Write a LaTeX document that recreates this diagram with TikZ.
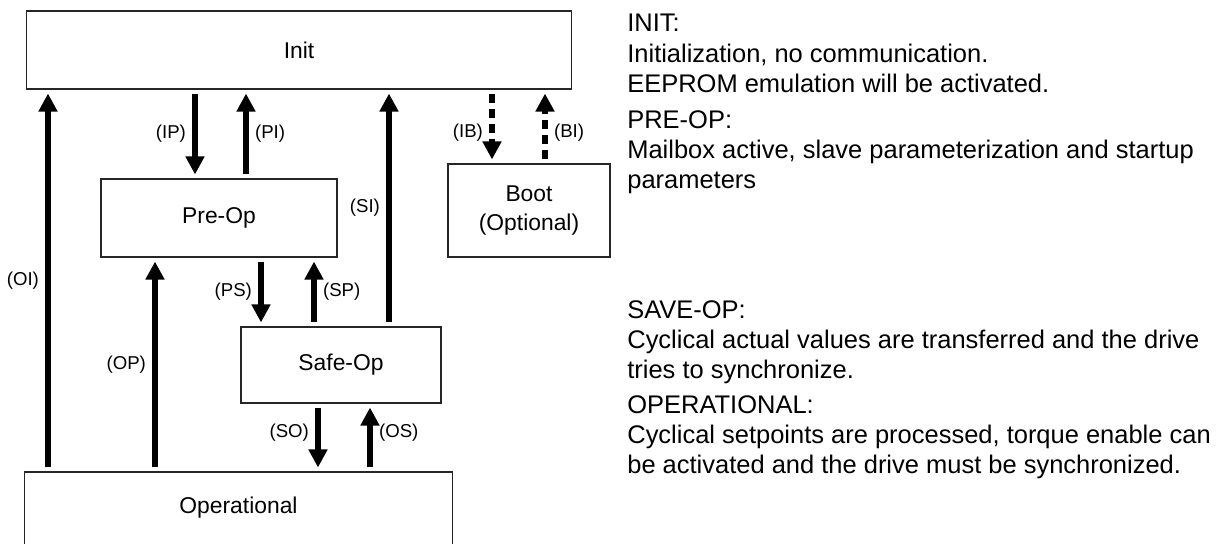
\documentclass[tikz,border=0pt]{standalone}
\usepackage{fontspec}
\setmainfont{Liberation Sans}
\usetikzlibrary{arrows.meta}
\tikzset{
  state/.style={
    draw=black!85, line width=0.6pt, align=center, inner sep=0pt,
    font=\fontsize{13}{16}\selectfont
  },
  trans/.style={-{Triangle[length=3.6mm,width=3.6mm]}, line width=1.3mm,
    shorten <=0.8mm, shorten >=0.8mm},
  optrans/.style={trans, dash pattern=on 1.8mm off 1.2mm},
  tag/.style={font=\fontsize{10.6}{12}\selectfont},
  note/.style={anchor=north west, inner sep=0pt, align=left,
    font=\fontsize{14.5}{17.2}\selectfont}
}

\begin{document}
\begin{tikzpicture}[x=0.02cm,y=-0.02cm]
  \useasboundingbox (0,0) rectangle (1221,544);
  % states
  \node[state,minimum width=10.92cm,minimum height=1.56cm] (init) at (299,50) {Init};
  \node[state,minimum width=4.72cm,minimum height=1.56cm] (preop) at (219,218) {Pre-Op};
  \node[state,minimum width=3.24cm,minimum height=1.86cm] (boot) at (529,210.5) {Boot\\(Optional)};
  \node[state,minimum width=4cm,minimum height=1.52cm] (safeop) at (341,365) {Safe-Op};
  \node[state,minimum width=8.58cm,minimum height=1.8cm,text depth=0.48cm] (oper) at (238.5,517) {Operational};
  % transitions
  \draw[trans] (oper.north -| 48,0) -- node[tag,left]{(OI)} (init.south -| 48,0);
  \draw[trans] (init.south -| 195,0) -- node[tag,left]{(IP)} (preop.north -| 195,0);
  \draw[trans] (preop.north -| 246,0) -- node[tag,right]{(PI)} (init.south -| 246,0);
  \draw[trans] (safeop.north -| 389,0) -- node[tag,left]{(SI)} (init.south -| 389,0);
  \draw[optrans] (init.south -| 492,0) -- node[tag,left,pos=0.59]{(IB)} (boot.north -| 492,0);
  \draw[optrans] (boot.north -| 545,0) -- node[tag,right,pos=0.41]{(BI)} (init.south -| 545,0);
  \draw[trans] (oper.north -| 155,0) -- node[tag,left]{(OP)} (preop.south -| 155,0);
  \draw[trans] (preop.south -| 261,0) -- node[tag,left]{(PS)} (safeop.north -| 261,0);
  \draw[trans] (safeop.north -| 314,0) -- node[tag,right]{(SP)} (preop.south -| 314,0);
  \draw[trans] (safeop.south -| 318,0) -- node[tag,left,pos=0.43]{(SO)} (oper.north -| 318,0);
  \draw[trans] (oper.north -| 370,0) -- node[tag,right,pos=0.57]{(OS)} (safeop.south -| 370,0);
  % descriptions
  \node[note] (initnote) at (627,14) {INIT:\\Initialization, no communication.\\EEPROM emulation will be activated.};
  \node[note] (preopnote) at (627,110) {PRE-OP:\\Mailbox active, slave parameterization and startup\\parameters};
  \node[note] (safenote) at (627,300) {SAVE-OP:\\Cyclical actual values are transferred and the drive\\tries to synchronize.};
  \node[note] (opnote) at (627,395) {OPERATIONAL:\\Cyclical setpoints are processed, torque enable can\\be activated and the drive must be synchronized.};
\end{tikzpicture}
\end{document}
